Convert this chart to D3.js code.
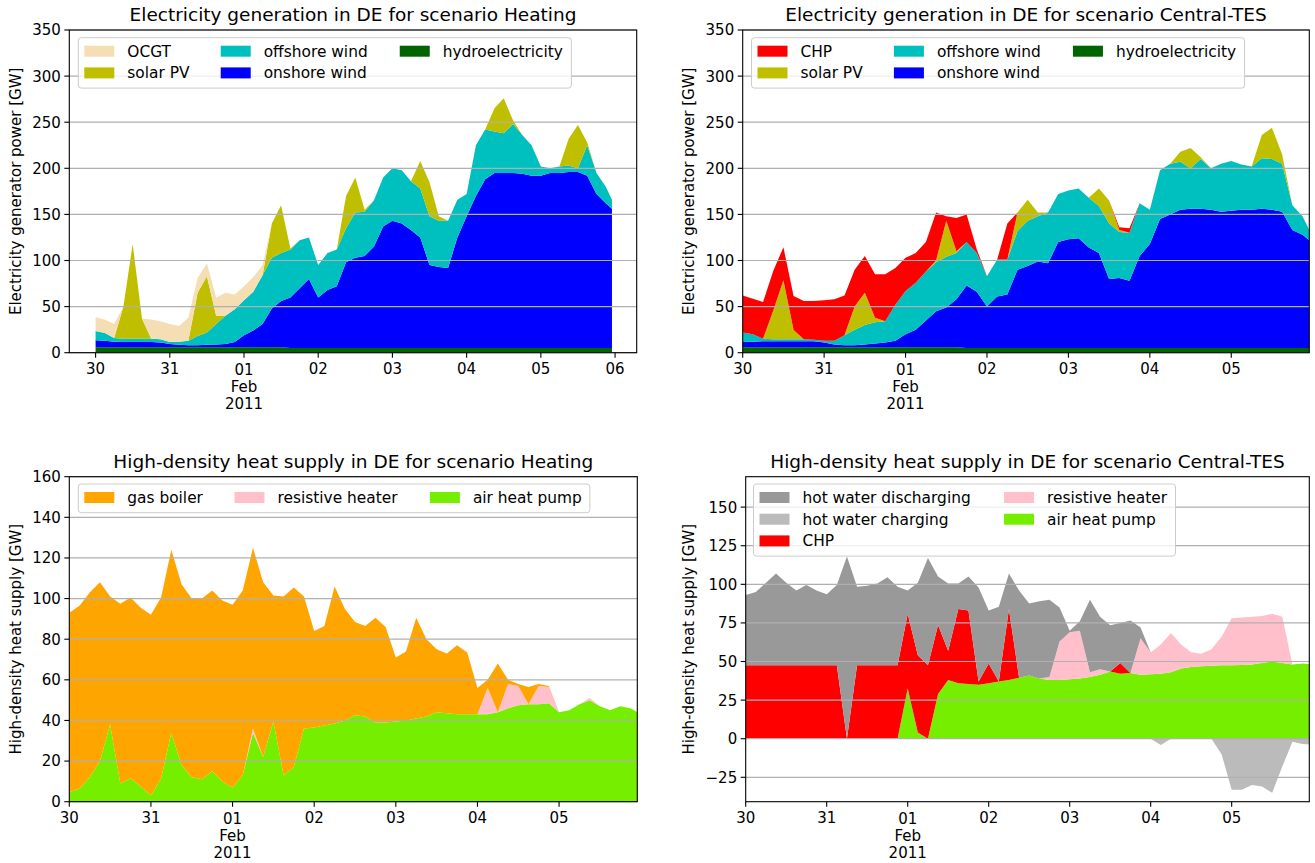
<!DOCTYPE html>
<html><head><meta charset="utf-8">
<script src="https://cdn.jsdelivr.net/npm/d3@7"></script>
<style>body{margin:0;background:#fff}svg{font-family:"DejaVu Sans",sans-serif}</style>
</head><body><svg id="c" width="1315" height="863"></svg>
<script>
// ---------- DATA ----------
const hours = [0,3,6,9,12,15,18,21,24,27,30,33,36,39,42,45,48,51,54,57,60,63,66,69,72,75,78,81,84,87,90,93,96,99,102,105,108,111,114,117,120,123,126,129,132,135,138,141,144,147,150,153,156,159,162,165,167];
const dayTicks = [0,1,2,3,4,5,6,7];
const dayLabels = ["30","31","01","02","03","04","05","06"];
const monthLine = {2:["Feb","2011"]};

// Electricity, scenario Heating (GW)
const tlHydro = [6,6,6,6,6,6,6,6,6,6,6,6,6,6,6,6,6,6,6,6,6,5,5,5,5,5,5,5,5,5,5,5,5,5,5,5,5,5,5,5,5,5,5,5,5,5,5,5,5,5,5,5,5,5,5,5,5];
const tlOnshore = [7.5,7,6,5.5,5.5,5.5,5.5,5,3.5,2.5,2,2,2.5,3,3.5,5.5,13,18,25,42,50,55,65,75,55,63,67,93,98,100,110,132,138,135,128,120,90,88,87,120,143,165,183,190,190,190,189,187,187,190,190,191,191,187,167,157,151];
const tlOffshore = [10,8.5,4,3.5,3.5,3.5,3.5,3.5,2,3.5,5,10,13.5,22,30.5,35.5,38,42,53,55,52,52,52,45,35,40,40,37,49,48,50,53,57,58,53,53,53,50,51,41,24,55,54,45,43,53,42,33,10,5,7,7,4,33,23,18,10];
const tlSolar = [0,0,0,35,103,22,0,0,0,0,0,47,61,9,0,0,0,0,0,37,52,1,0,0,0,0,0,35,38,2,0,0,0,0,0,30,37,5,0,0,0,0,0,25,38,4,0,0,0,0,0,29,47,3,0,0,0];
const tlOCGT = [15,14.5,15,0,0,0,21,19.5,19.5,17,25,16,14,20,25,16,15,16,11,0,0,0,0,0,0,0,0,0,0,0,0,0,0,0,0,0,0,0,0,0,0,0,0,0,0,0,0,0,0,0,0,0,0,0,0,0,0];

// Electricity, scenario Central-TES (GW)
const trHydro = [6,6,6,6,6,6,6,6,6,6,6,6,6,6,6,6,6,6,6,6,6,6,5,5,5,5,5,5,5,5,5,5,5,5,5,5,5,5,5,5,5,5,5,5,5,5,5,5,5,5,5,5,5,5,5,5,5];
const trOnshore = [5.5,6,6.5,6.5,6.5,6.5,6.5,6.5,5,3,2,2,3,4,5,7,14,19,29,39,43,52,68,61,45,56,58,85,89,94,92,115,118,119,109,103,75,76,73,100,113,140,145,150,151,151,150,148,149,150,150,151,150,148,128,123,117];
const trOffshore = [10.5,8,2.5,2,2,2,2,1.5,2,4,11,17,21,23,23,39,47,51,53,53,55,50,47,42,33,40,38,42,49,49,55,52,53,54,54,51,60,50,52,57,37,53,55,52,44,54,45,52,54,49,47,55,55,52,27,20,11];
const trSolar = [0,0,0,31,64,10,0,0,0,0,0,25,35,5,0,0,0,0,0,2,39,2,0,0,0,0,0,20,23,4,0,0,0,0,0,19,25,2,0,0,0,0,0,11,22,2,0,0,0,0,0,25,34,10,0,0,0];
const trCHP = [40,38.5,40,43,36,37,41.5,42,44,45,43,40,40,47,51,40,36,32,32,52,5,36,30,4,0,0,39,0,0,0,0,0,0,0,0,0,0,3,5,0,0,0,0,0,0,0,0,0,0,0,0,0,0,0,0,0,0];

// Heat, scenario Heating (GW)
const blHeatPump = [4.6,6.5,12,20,38,9,11.5,7.5,3,11.5,34,18,12,11,15,10,7,13,34,22,39.5,13,17,36,36.5,37.5,38.5,40,42.5,42,39,39,39.5,40,41,42,44,43.5,43,43,43,43,44,46,47.5,48,48,48.5,44,45,48,50,47,45,47,46,44];
const blResistive = [0,0,0,0,0,0,0,0,0,0,0,0,0,0,0,0,0,0,2,0,0,0,0,0,0,0,0,0,0,0,0,0,0,0,0,0,0,0,0,0,0,13,0,12,9.5,0,9,8,0,0,0,1,0,0,0,0,0];
const blGasBoiler = [88.4,90,91,88,63,88.5,89,88,89,89.2,90,89,88,89,89,89,90,91,89,86,62,88,88.5,65,47.5,49,67.5,55,46,44.5,51.5,47,31.5,34,49.5,38,31,29.5,34,30.5,13,4,24,2,1,8.5,1,0.5,0,0,0,0,0,0,0,0,0];

// Heat, scenario Central-TES (GW)
const brHeatPump = [0,0,0,0,0,0,0,0,0,0,0,0,0,0,0,0,32.5,4,0,29,38,36,35.5,35,36,37,38,39.5,41,39,38,38,38.5,39,40,41.5,43.5,42,42.5,41.5,41.8,42,43,45.5,46.5,47,47.3,47.5,47.6,47.8,48,49,50,49,48,48.7,48.3];
const brResistive = [0,0,0,0,0,0,0,0,0,0,0,0,0,0,0,0,0,0,0,0,0,0,0,0,0,0,0,0,0,0,2,25,30.5,31,3,3.5,0,0,0,23.5,14,19,25.5,15.5,9.5,8,10.7,18.5,30.4,30.7,31,30.4,31,30,0,0,0];
const brCHP = [47.6,47.6,47.6,47.6,47.6,47.6,47.6,47.6,47.6,47.6,0,47.6,47.6,47.6,47.6,47.6,48.5,50,47.6,44.6,19,48,47.5,2,12.7,0,46,0,0,0,0,0,0,0,0,0,0,7,0,0,0,0,0,0,0,0,0,0,0,0,0,0,0,0,0,0,0];
const brDischarging = [45.4,47.4,53.4,59.4,53.4,48.4,52,48.4,45.9,52,118,50.9,51.4,53,56.9,50.9,15,47,69.4,31.4,43.6,16.6,22,61,34.3,48.5,23,56.5,46.5,50,50,22,1,6,47,34,30,26,34,7,0,0,0,0,0,0,0,0,0,0,0,0,0,0,0,0,0];
const brCharging = [0,0,0,0,0,0,0,0,0,0,0,0,0,0,0,0,0,0,0,0,0,0,0,0,0,0,0,0,0,0,0,0,0,0,0,0,0,0,0,0,0,-4,0,0,0,0,0,-10,-33,-33,-30,-31,-35,-18,-2,-3.4,-3.7];

const elecTicks = [0,50,100,150,200,250,300,350];
const heatTicksA = [0,20,40,60,80,100,120,140,160];
const heatTicksB = [-25,0,25,50,75,100,125,150];

// ---------- DRAWING ----------
const svg = d3.select("#c");
const t0 = Date.UTC(2011,0,30);
const T = h => new Date(t0 + h*3600e3);
const FS = 15;
const LFS = 15.4;
const fmt = v => v < 0 ? "\u2212" + (-v) : String(v);

function drawPanel(p) {
  const x = d3.scaleUtc().domain([T(p.xh[0]), T(p.xh[1])]).range([p.l, p.r]);
  const y = d3.scaleLinear().domain(p.yd).range([p.b, p.t]);
  const g = svg.append("g");
  g.append("clipPath").attr("id", "clip" + p.id).append("rect")
    .attr("x", p.l).attr("y", p.t).attr("width", p.r - p.l).attr("height", p.b - p.t);
  const rows = hours.map((h, i) => { const o = {t: T(h)}; p.series.forEach(s => o[s.name] = s.values[i]); return o; });
  const pos = p.series.filter(s => !s.neg);
  const layers = d3.stack().keys(pos.map(s => s.name))(rows);
  const area = d3.area().x(d => x(d.data.t)).y0(d => y(d[0])).y1(d => y(d[1]));
  const ga = g.append("g").attr("clip-path", `url(#clip${p.id})`);
  layers.forEach((L, k) => ga.append("path").attr("d", area(L)).attr("fill", pos[k].color));
  p.series.filter(s => s.neg).forEach(s => {
    const a = d3.area().x(d => x(d.t)).y0(y(0)).y1(d => y(d[s.name]));
    ga.append("path").attr("d", a(rows)).attr("fill", s.color);
  });
  // grid
  p.yt.forEach(v => g.append("line").attr("x1", p.l).attr("x2", p.r).attr("y1", y(v)).attr("y2", y(v))
    .attr("stroke", "#b0b0b0").attr("stroke-width", 1.2));
  // y axis ticks
  p.yt.forEach(v => {
    g.append("line").attr("x1", p.l - 5).attr("x2", p.l).attr("y1", y(v)).attr("y2", y(v)).attr("stroke", "#000").attr("stroke-width", 1.1);
    g.append("text").attr("x", p.l - 8.5).attr("y", y(v) + 5.4).attr("text-anchor", "end").attr("font-size", FS).text(fmt(v));
  });
  // x axis ticks
  p.xt.forEach(d => {
    const xx = x(T(d * 24));
    g.append("line").attr("x1", xx).attr("x2", xx).attr("y1", p.b).attr("y2", p.b + 5).attr("stroke", "#000").attr("stroke-width", 1.1);
    g.append("text").attr("x", xx).attr("y", p.b + 21.5 + (monthLine[d] ? 1 : 0)).attr("text-anchor", "middle").attr("font-size", FS).text(dayLabels[d]);
    if (monthLine[d]) monthLine[d].forEach((s, j) =>
      g.append("text").attr("x", xx).attr("y", p.b + 22 + 17.2 * (j + 1)).attr("text-anchor", "middle").attr("font-size", FS).text(s));
  });
  // spines
  g.append("rect").attr("x", p.l).attr("y", p.t).attr("width", p.r - p.l).attr("height", p.b - p.t)
    .attr("fill", "none").attr("stroke", "#000").attr("stroke-width", 1.1);
  // title
  g.append("text").attr("x", (p.l + p.r) / 2).attr("y", p.t - 9).attr("text-anchor", "middle").attr("font-size", 18.5).text(p.title);
  // y label
  g.append("text").attr("transform", `translate(${p.ylx},${(p.t + p.b) / 2}) rotate(-90)`)
    .attr("text-anchor", "middle").attr("font-size", FS).text(p.ylabel);
  // legend
  const items = p.legend.map(n => p.series.find(s => s.name === n));
  const n = items.length, ncol = p.ncol;
  const base = Math.floor(n / ncol), large = n % ncol;
  const dist = d3.range(ncol).map(c => c < large ? base + 1 : base);
  const nrow = dist[0];
  const lg = g.append("g");
  const box = lg.append("rect");
  let idx = 0, cx = p.lx + 6;
  dist.forEach(cnt => {
    let maxW = 0;
    for (let r = 0; r < cnt; r++, idx++) {
      const it = items[idx], cy = p.ly + 13.5 + 21.7 * r;
      lg.append("rect").attr("x", cx).attr("y", cy - 5.5).attr("width", 30).attr("height", 11).attr("fill", it.color);
      const tt = lg.append("text").attr("x", cx + 43).attr("y", cy + 5.5).attr("font-size", LFS).text(it.name);
      maxW = Math.max(maxW, tt.node().getComputedTextLength() * 1.02);
    }
    cx += 43 + maxW + 30;
  });
  const w = cx - 30 + 6 - p.lx;
  box.attr("x", p.lx).attr("y", p.ly).attr("width", w).attr("height", 7 + 21.7 * nrow).attr("rx", 3)
    .attr("fill", "#fff").attr("fill-opacity", 0.8).attr("stroke", "#cccccc").attr("stroke-width", 1);
}

const C = {ocgt:"#f5deb3", solar:"#bfbf00", off:"#00bfbf", on:"#0000ff", hydro:"#006400", chp:"#ff0000",
  gas:"#ffa500", res:"#ffc0cb", hp:"#76ee00", dis:"#999999", chg:"#bbbbbb"};

drawPanel({id:"tl", l:69.3, r:636.7, t:30, b:352.7, xh:[-8.5,175], yd:[0,350], yt:elecTicks, xt:[0,1,2,3,4,5,6,7],
  title:"Electricity generation in DE for scenario Heating", ylabel:"Electricity generator power [GW]", ylx:21,
  series:[{name:"hydroelectricity",values:tlHydro,color:C.hydro},{name:"onshore wind",values:tlOnshore,color:C.on},
    {name:"offshore wind",values:tlOffshore,color:C.off},{name:"solar PV",values:tlSolar,color:C.solar},{name:"OCGT",values:tlOCGT,color:C.ocgt}],
  legend:["OCGT","solar PV","offshore wind","onshore wind","hydroelectricity"], ncol:3, lx:78.3, ly:37.7});

drawPanel({id:"tr", l:742.7, r:1309.3, t:30, b:352.7, xh:[0,167], yd:[0,350], yt:elecTicks, xt:[0,1,2,3,4,5,6],
  title:"Electricity generation in DE for scenario Central-TES", ylabel:"Electricity generator power [GW]", ylx:694,
  series:[{name:"hydroelectricity",values:trHydro,color:C.hydro},{name:"onshore wind",values:trOnshore,color:C.on},
    {name:"offshore wind",values:trOffshore,color:C.off},{name:"solar PV",values:trSolar,color:C.solar},{name:"CHP",values:trCHP,color:C.chp}],
  legend:["CHP","solar PV","offshore wind","onshore wind","hydroelectricity"], ncol:3, lx:751.5, ly:37.7});

drawPanel({id:"bl", l:69.3, r:637.3, t:476.7, b:801.7, xh:[0,167], yd:[0,160], yt:heatTicksA, xt:[0,1,2,3,4,5,6],
  title:"High-density heat supply in DE for scenario Heating", ylabel:"High-density heat supply [GW]", ylx:21,
  series:[{name:"air heat pump",values:blHeatPump,color:C.hp},{name:"resistive heater",values:blResistive,color:C.res},
    {name:"gas boiler",values:blGasBoiler,color:C.gas}],
  legend:["gas boiler","resistive heater","air heat pump"], ncol:3, lx:78.3, ly:484});

drawPanel({id:"br", l:745.7, r:1309.3, t:476.7, b:801.7, xh:[0,167], yd:[-40.8,169.7], yt:heatTicksB, xt:[0,1,2,3,4,5,6],
  title:"High-density heat supply in DE for scenario Central-TES", ylabel:"High-density heat supply [GW]", ylx:694,
  series:[{name:"air heat pump",values:brHeatPump,color:C.hp},{name:"resistive heater",values:brResistive,color:C.res},
    {name:"CHP",values:brCHP,color:C.chp},{name:"hot water discharging",values:brDischarging,color:C.dis},
    {name:"hot water charging",values:brCharging,color:C.chg,neg:true}],
  legend:["hot water discharging","hot water charging","CHP","resistive heater","air heat pump"], ncol:2, lx:753.5, ly:484});
</script></body></html>
